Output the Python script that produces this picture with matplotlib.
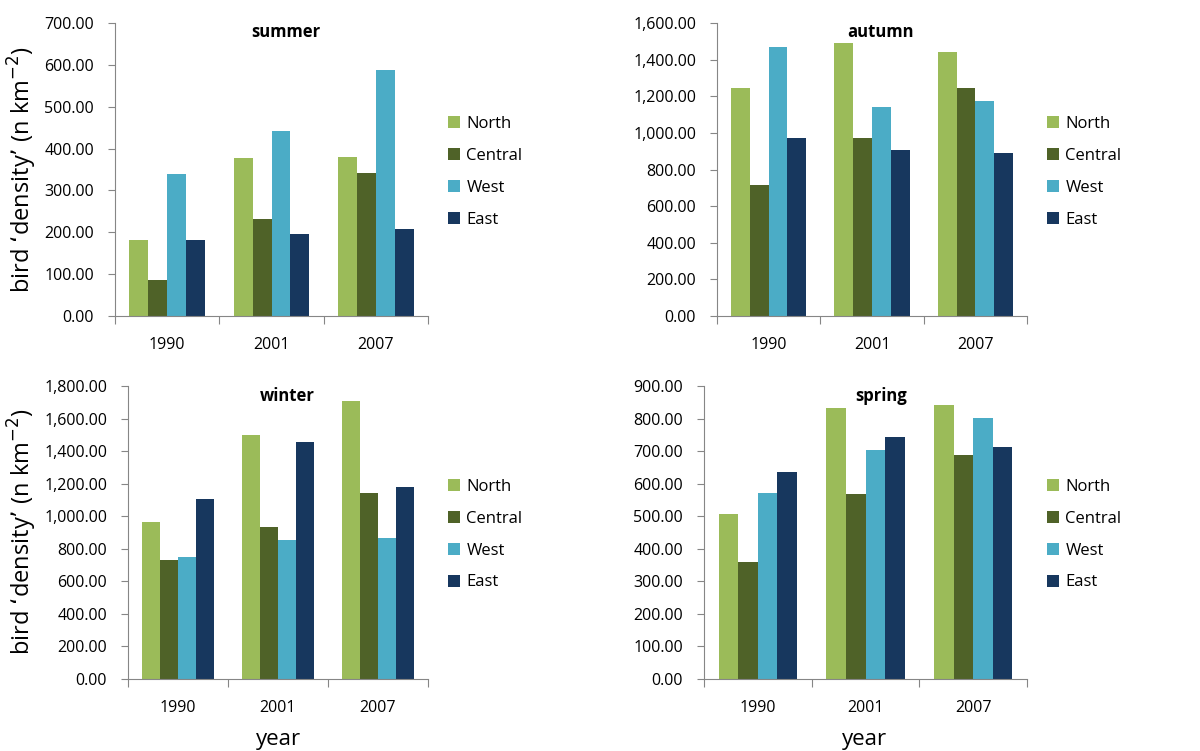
import matplotlib.pyplot as plt
import matplotlib.ticker as mticker
import numpy as np

plt.rcParams['font.family'] = ['Open Sans', 'DejaVu Sans']

years = ['1990', '2001', '2007']
regions = ['North', 'Central', 'West', 'East']
colors = ['#9BBB59', '#4F6228', '#4BACC6', '#17375E']

# values per region, one entry per year
summer = {'North': [182, 378, 380], 'Central': [86, 232, 342],
          'West': [340, 442, 588], 'East': [182, 196, 208]}
autumn = {'North': [1246, 1492, 1443], 'Central': [716, 973, 1246],
          'West': [1471, 1143, 1175], 'East': [973, 908, 891]}
winter = {'North': [965, 1499, 1708], 'Central': [732, 935, 1145],
          'West': [751, 855, 867], 'East': [1107, 1456, 1180]}
spring = {'North': [507, 832, 843], 'Central': [360, 569, 687],
          'West': [572, 704, 802], 'East': [636, 744, 713]}

W, H = 1200, 751
fig = plt.figure(figsize=(12, 7.51), dpi=100)


def px_axes(x0, y0, x1, y1):
    return fig.add_axes([x0 / W, 1 - y1 / H, (x1 - x0) / W, (y1 - y0) / H])


panels = [
    # data, title, ymax, step, axes box (px), title pos, legend top
    (summer, 'summer', 700, 100, (115, 23, 428, 316), (286, 32), 130),
    (autumn, 'autumn', 1600, 200, (717, 23, 1027, 316), (881, 32), 130),
    (winter, 'winter', 1800, 200, (128, 386, 428, 679), (287, 396), 493),
    (spring, 'spring', 900, 100, (704, 386, 1027, 679), (881, 396), 493),
]

x = np.arange(len(years))
bw = 0.182
for data, title, ymax, step, box, tpos, legy in panels:
    ax = px_axes(*box)
    for i, r in enumerate(regions):
        ax.bar(x + (i - 1.5) * bw, data[r], bw, color=colors[i], label=r)
    ax.set_xlim(-0.5, 2.5)
    ax.set_ylim(0, ymax)
    ax.set_yticks(np.arange(0, ymax + 1, step))
    ax.yaxis.set_major_formatter(mticker.FuncFormatter(lambda v, p: f'{v:,.2f}'))
    ax.set_xticks([-0.5, 0.5, 1.5, 2.5])
    ax.set_xticklabels([])
    ax.set_xticks(x, minor=True)
    ax.set_xticklabels(years, minor=True, fontsize=11.5)
    ax.tick_params(axis='x', which='minor', length=0, pad=15)
    ax.tick_params(axis='x', which='major', length=6, color='#868686')
    ax.tick_params(axis='y', length=5, color='#868686', pad=10, labelsize=11.5)
    for s in ['top', 'right']:
        ax.spines[s].set_visible(False)
    for s in ['left', 'bottom']:
        ax.spines[s].set_color('#868686')
    fig.text(tpos[0] / W, 1 - tpos[1] / H, title, ha='center', va='center',
             fontsize=12, fontweight='bold')
    lx = box[2] + 20
    ax.legend(loc='upper left', bbox_to_anchor=(lx / W, 1 - (legy - 14) / H),
              bbox_transform=fig.transFigure, frameon=False, fontsize=12,
              handlelength=0.7, handleheight=0.7, handletextpad=0.4,
              labelspacing=0.95, borderaxespad=0, borderpad=0)

ylabel = 'bird \u2018density\u2019 (n km$^{-2}$)'
fig.text(22 / W, 1 - 170 / H, ylabel, rotation=90, ha='center', va='center', fontsize=17)
fig.text(22 / W, 1 - 532 / H, ylabel, rotation=90, ha='center', va='center', fontsize=17)
fig.text(278 / W, 1 - 740 / H, 'year', ha='center', va='center', fontsize=16)
fig.text(865 / W, 1 - 740 / H, 'year', ha='center', va='center', fontsize=16)

fig.savefig('out.png', dpi=100)
